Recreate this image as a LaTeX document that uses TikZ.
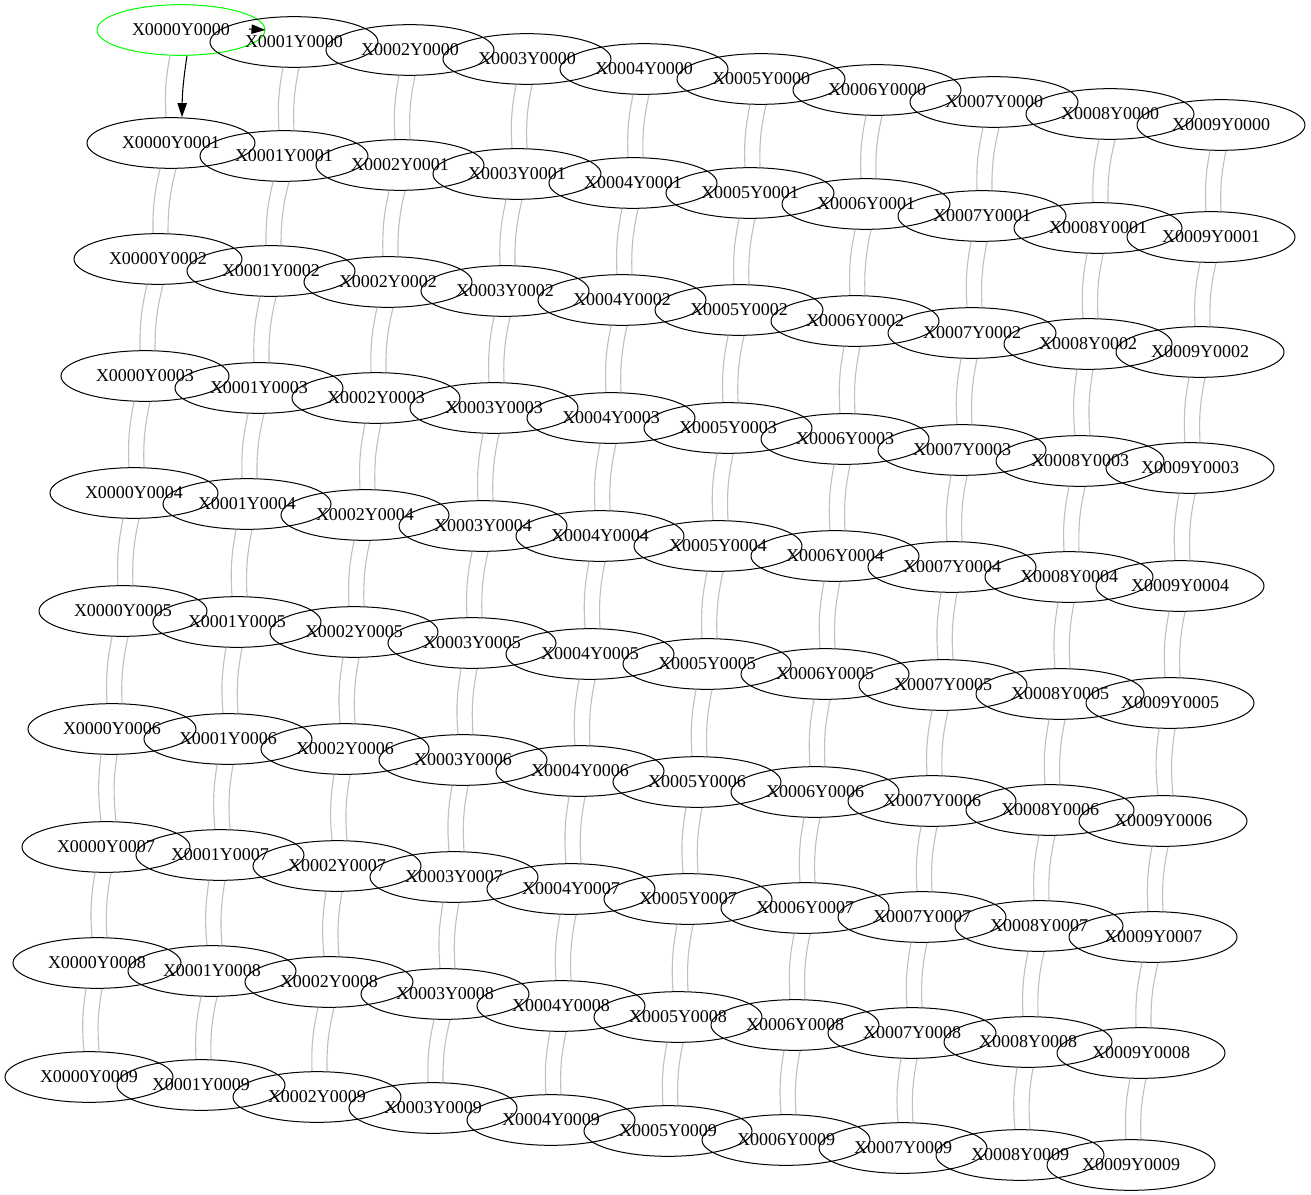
\documentclass[tikz,border=0pt]{standalone}
\usepackage{fontspec}
\setmainfont{Liberation Serif}
\usetikzlibrary{shapes.geometric,arrows.meta,calc}
\begin{document}
\begin{tikzpicture}[x=0.75pt,y=-0.75pt,
  gnode/.style={ellipse,draw=black,line width=0.75pt,minimum width=126pt,minimum height=38pt,inner sep=0pt,font=\fontsize{13.5}{16}\selectfont},
  startnode/.style={gnode,draw={rgb,255:red,0;green,255;blue,0}},
  link/.style={draw={rgb,255:red,192;green,192;blue,192},line width=0.85pt},
  arrowlink/.style={draw=black,line width=0.8pt,-{Triangle[length=10.5pt,width=7pt]}}]
\useasboundingbox (0,0) rectangle (1311,1195);
% row 0
\node[startnode] (n00) at (181,30) {X0000Y0000};
\foreach \x/\y [count=\k from 1] in {294/42,410/50,527/59,644/69,761/79,877/90,994/102,1110/114,1221/125}
  {\node[gnode] (n\k0) at (\x,\y) {X000\k Y0000};}
\foreach \x/\y [count=\k from 0] in {171/143,284/156,400/165,517/174,633/183,750/193,866/204,982/216,1098/228,1211/237}
  {\node[gnode] (n\k1) at (\x,\y) {X000\k Y0001};}
\foreach \x/\y [count=\k from 0] in {158/259,271/271,388/282,505/291,622/300,739/310,855/321,972/333,1088/344,1200/352}
  {\node[gnode] (n\k2) at (\x,\y) {X000\k Y0002};}
\foreach \x/\y [count=\k from 0] in {145/376,259/388,376/398,494/408,611/418,728/428,845/439,962/450,1080/461,1190/468}
  {\node[gnode] (n\k3) at (\x,\y) {X000\k Y0003};}
\foreach \x/\y [count=\k from 0] in {134/493,247/504,365/515,483/526,600/536,718/546,835/556,952/567,1069/577,1180/586}
  {\node[gnode] (n\k4) at (\x,\y) {X000\k Y0004};}
\foreach \x/\y [count=\k from 0] in {123/611,237/622,354/632,472/643,590/654,707/664,825/674,943/685,1060/694,1170/703}
  {\node[gnode] (n\k5) at (\x,\y) {X000\k Y0005};}
\foreach \x/\y [count=\k from 0] in {112/729,228/739,345/749,463/760,580/771,697/782,815/792,932/801,1050/810,1163/821}
  {\node[gnode] (n\k6) at (\x,\y) {X000\k Y0006};}
\foreach \x/\y [count=\k from 0] in {106/847,220/855,337/866,454/877,571/889,688/899,805/908,922/917,1039/926,1153/937}
  {\node[gnode] (n\k7) at (\x,\y) {X000\k Y0007};}
\foreach \x/\y [count=\k from 0] in {97/963,212/971,329/982,445/994,561/1006,678/1017,795/1025,912/1033,1028/1042,1141/1053}
  {\node[gnode] (n\k8) at (\x,\y) {X000\k Y0008};}
\foreach \x/\y [count=\k from 0] in {89/1077,201/1085,317/1097,433/1108,551/1120,668/1131,786/1140,903/1148,1020/1155,1131/1165}
  {\node[gnode] (n\k9) at (\x,\y) {X000\k Y0009};}
% vertical double links
\foreach \i in {0,...,9}{
  \foreach \j in {0,...,8}{
    \pgfmathtruncatemacro{\nextj}{\j+1}
    \draw[link] ($(n\i\j.south)+(-11,0)$) to[bend right=7] ($(n\i\nextj.north)+(-5,0)$);
    \ifnum\numexpr\i+\j\relax=0
      \draw[arrowlink] ($(n\i\j.south)+(6,0)$) to[bend right=4] ($(n\i\nextj.north)+(11,0)$);
    \else
      \draw[link] ($(n\i\j.south)+(5,0)$) to[bend right=7] ($(n\i\nextj.north)+(10,0)$);
    \fi
  }
}
% short arrow into the east side of the start node
\coordinate (atail) at (249,29);
\draw[arrowlink] (atail) -- (n00.east);
\end{tikzpicture}
\end{document}
